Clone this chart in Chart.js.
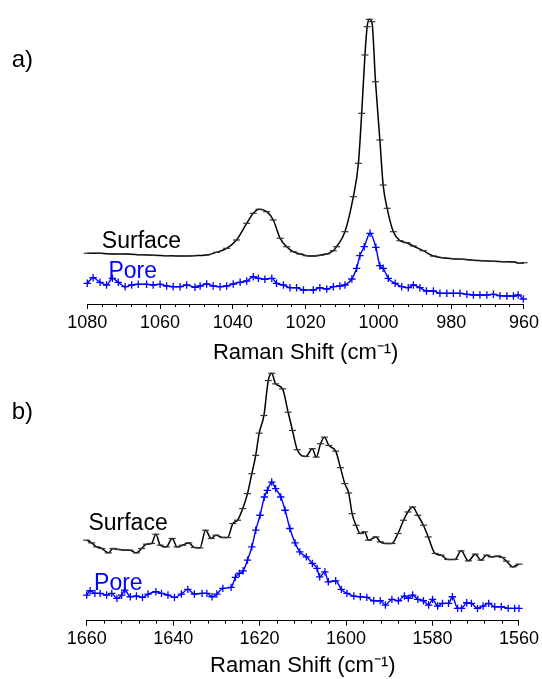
<!DOCTYPE html>
<html><head><meta charset="utf-8">
<script src="https://cdn.jsdelivr.net/npm/chart.js@4.4.1/dist/chart.umd.min.js"></script>
<style>
html,body{margin:0;padding:0;background:#fff;width:542px;height:679px;overflow:hidden;position:relative;}
canvas{position:absolute;left:0;}
#ca{top:0}
#cb{top:366px}
</style></head><body>
<canvas id="ca" width="542" height="366"></canvas>
<canvas id="cb" width="542" height="313"></canvas>
<script>
const FONT = '"Liberation Sans", Arial, Helvetica, sans-serif';

const seriesNames = ['Surface', 'Pore'];
const panelNames = ['a)', 'b)'];
const axisTitle = 'Raman Shift (cm\u207B\u00B9)';

// ---- Panel a (960-1080 cm-1) ----
const ticksA = [1080, 1060, 1040, 1020, 1000, 980, 960];
const shiftA_surface = [1080, 1076.5, 1072.9, 1069.2, 1065.5, 1061.9, 1058.2, 1054.5, 1050.9, 1047.2,
  1044.5, 1041.7, 1039.0, 1036.2, 1034.4, 1032.8, 1030.7, 1028.9, 1027.0, 1025.2,
  1023.4, 1021.6, 1019.7, 1017.9, 1016.1, 1014.2, 1012.4, 1011.5, 1009.2, 1006.9,
  1005.5, 1004.6, 1003.7, 1003.1, 1002.5, 1001.8, 1000.8, 999.6, 998.7, 997.6,
  995.9, 994.1, 992.2, 990.4, 987.7, 984.9, 982.2, 979.4, 976.7, 974.0,
  971.2, 968.4, 965.7, 962.9, 961.1, 960];
const intensityA_surface = [50.7, 50.7, 50, 50, 49.3, 48.7, 48.3, 48, 48.3, 49,
  51.7, 55.7, 64, 80.7, 90.7, 94.7, 92.3, 84, 65.7, 57.3,
  52.3, 50, 48.3, 48, 48.7, 50, 53.3, 57.3, 72.3, 107.3,
  140.7, 190.7, 249, 277.3, 284.7, 282.3, 222.3, 164, 119, 95.7,
  72.3, 63.3, 61.3, 58, 53.3, 48, 46.3, 45.3, 44.7, 43.7,
  43.3, 42.7, 42.3, 42, 40.7, 41.3];
const shiftA_pore = [1080.0, 1078.4, 1076.5, 1074.7, 1073.1, 1071.5, 1069.6, 1067.8, 1066.0, 1063.7,
  1061.9, 1060.0, 1058.2, 1056.4, 1054.5, 1052.7, 1050.4, 1049.0, 1047.2, 1045.4,
  1043.5, 1041.7, 1039.9, 1038.0, 1036.2, 1034.4, 1033.0, 1031.2, 1029.3, 1028.0,
  1026.1, 1024.3, 1022.5, 1020.6, 1017.9, 1016.1, 1014.2, 1012.4, 1010.6, 1009.2,
  1007.3, 1006.0, 1005.1, 1003.9, 1002.3, 1000.7, 999.6, 998.7, 997.3, 995.4,
  993.6, 991.8, 990.4, 988.6, 986.8, 984.9, 983.1, 981.2, 979.4, 977.6,
  975.7, 973.9, 972.1, 970.2, 968.4, 966.6, 964.7, 962.9, 961.6, 960.2];
const intensityA_pore = [20.7, 26.3, 21.7, 19, 25.7, 21.7, 17.3, 19, 19.7, 19.7,
  19, 19.7, 18, 17.3, 17.3, 19, 16.7, 18, 20, 18,
  17.3, 18, 20, 21.7, 23, 27.3, 25.7, 24.7, 25.7, 20.7,
  19, 16.3, 16.3, 14, 14, 16.3, 15, 17.3, 18, 19,
  25, 35.7, 48.3, 57.3, 70.7, 56.7, 38.3, 35.7, 25.7, 20.7,
  17.3, 16.3, 19, 16.3, 13, 13, 10.7, 10.7, 10.7, 10.7,
  9.7, 9, 9, 9, 9.7, 8.3, 8, 8, 9, 5];

// ---- Panel b (1560-1660 cm-1) ----
const ticksB = [1660, 1640, 1620, 1600, 1580, 1560];
const shiftB_surface = [1660, 1658.85, 1657.7, 1656.5, 1655.0, 1653.9, 1652.7, 1651.2, 1650.0, 1648.5,
  1647.3, 1646.2, 1645.0, 1644.0, 1643.0, 1641.6, 1640.2, 1639.1, 1637.8, 1636.4,
  1635.1, 1633.8, 1632.5, 1631.2, 1630.1, 1628.5, 1627.4, 1626.2, 1625.1, 1623.9,
  1622.8, 1621.8, 1620.9, 1620.1, 1619.0, 1618.0, 1617.2, 1616.3, 1614.7, 1613.4,
  1612.4, 1611.3, 1609.3, 1607.8, 1606.9, 1605.9, 1605.0, 1604.0, 1602.4, 1601.3,
  1600.3, 1599.4, 1598.6, 1597.7, 1596.7, 1595.7, 1594.8, 1593.1, 1592.1, 1590.9,
  1589.4, 1588.0, 1586.7, 1585.7, 1584.6, 1583.4, 1582.1, 1581.0, 1579.4, 1578.0,
  1576.5, 1574.8, 1573.4, 1571.7, 1570.1, 1568.8, 1567.5, 1566.4, 1564.8, 1563.9,
  1562.9, 1561.4, 1560];
const intensityB_surface = [80.7, 78, 74, 72.4, 68, 72.4, 71.4, 70.7, 70.7, 68,
  72.4, 76.7, 77.4, 86.7, 75.7, 74, 82.4, 74, 75.7, 78,
  73.4, 73, 90.7, 82.4, 85.7, 83.4, 83.4, 97.4, 100.7, 112.4,
  127.4, 147.4, 165.7, 188, 205.7, 240.7, 248, 237.4, 232.4, 209,
  190.7, 171.4, 164.7, 172.4, 164, 177.4, 184, 175.7, 170, 153.4,
  137.4, 128, 107.4, 95.7, 87.4, 89, 80.7, 84, 79, 77.4,
  77.4, 87.4, 100.7, 109, 114, 105.7, 95.7, 84, 67.4, 65.7,
  61.4, 61.4, 70, 60, 66.7, 60.7, 65.7, 64, 64.7, 63.4,
  59.7, 54, 56.7];
const shiftB_pore = [1660, 1659.2, 1658.1, 1656.9, 1655.4, 1654.2, 1653.0, 1651.9, 1651.2, 1649.9,
  1648.5, 1647.1, 1645.8, 1644.0, 1642.7, 1641.2, 1639.7, 1638.1, 1636.6, 1635.1,
  1633.3, 1632.2, 1631.0, 1629.9, 1628.5, 1626.6, 1625.6, 1624.7, 1623.8, 1622.8,
  1621.8, 1620.9, 1619.9, 1618.9, 1618.2, 1617.2, 1616.3, 1615.1, 1614.1, 1613.0,
  1611.8, 1610.7, 1609.2, 1607.8, 1606.7, 1606.1, 1604.9, 1604.1, 1602.4, 1601.1,
  1599.8, 1598.2, 1596.7, 1595.2, 1593.6, 1592.1, 1590.9, 1589.4, 1587.9, 1586.5,
  1585.6, 1584.6, 1583.4, 1582.1, 1580.9, 1580.0, 1578.8, 1577.7, 1576.3, 1575.4,
  1574.2, 1573.3, 1572.1, 1571.0, 1569.6, 1568.3, 1567.0, 1565.6, 1564.1, 1562.5,
  1561.0, 1560];
const intensityB_pore = [25.7, 30, 27.4, 27.4, 25.7, 27.4, 22.4, 25.7, 30.7, 24,
  24.7, 23.4, 26.7, 29, 27.4, 25.7, 23.4, 26.7, 31.4, 26.7,
  27.4, 27.4, 24, 26.7, 32.4, 33.4, 43.4, 47.4, 50, 60.7,
  74, 90.7, 105.7, 124, 130.7, 139, 132.4, 124, 110.7, 92.4,
  78, 69, 64, 57.4, 52.4, 44, 49, 39, 40, 31.4,
  27.4, 24.7, 24, 23.4, 20, 20, 15.7, 21.4, 20, 24.7,
  22.4, 25.7, 21.4, 20, 15.7, 21.4, 14.7, 17.4, 17.4, 24,
  12.4, 12.4, 18, 17.4, 12.4, 14.7, 17.4, 14, 14, 12.4,
  12.4, 12.4];

function pts(xs, ys) { return xs.map((x, i) => ({ x: x, y: ys[i] })); }

const textLabels = {
  id: 'textLabels',
  afterDatasetsDraw(chart, args, opts) {
    const ctx = chart.ctx;
    ctx.save();
    (opts.items || []).forEach(it => {
      ctx.font = it.size + 'px ' + FONT;
      ctx.fillStyle = it.color;
      ctx.textAlign = 'left';
      ctx.textBaseline = 'alphabetic';
      let x, y;
      if (it.px !== undefined) { x = it.px; y = it.py; }
      else { x = chart.scales.x.getPixelForValue(it.x); y = chart.scales.y.getPixelForValue(it.y); }
      ctx.fillText(it.text, x, y);
    });
    ctx.restore();
  }
};

const minorTicks = {
  id: 'minorTicks',
  afterDraw(chart, args, opts) {
    const s = chart.scales.x, ctx = chart.ctx, b = chart.chartArea.bottom;
    ctx.save();
    ctx.strokeStyle = '#000';
    ctx.lineWidth = 1;
    for (let v = s.min; v <= s.max + 1e-6; v += opts.step) {
      if (Math.abs(v % opts.major) < 1e-6) continue;
      const x = Math.round(s.getPixelForValue(v)) + 0.5;
      ctx.beginPath(); ctx.moveTo(x, b); ctx.lineTo(x, b + opts.len); ctx.stroke();
    }
    ctx.restore();
  }
};

function makeChart(id, cfg) {
  return new Chart(document.getElementById(id), {
    type: 'line',
    data: {
      datasets: [
        { label: seriesNames[0], data: pts(cfg.sx, cfg.sy), borderColor: '#000', borderWidth: 1.5,
          pointStyle: 'line', pointRadius: 3.5, pointBorderColor: '#333', pointBorderWidth: 1.2,
          pointBackgroundColor: '#000', cubicInterpolationMode: 'monotone', fill: false, clip: false },
        { label: seriesNames[1], data: pts(cfg.px, cfg.py), borderColor: '#0000ff', borderWidth: 1.4,
          pointStyle: 'cross', pointRadius: 3.7, pointBorderColor: '#0000ff', pointBorderWidth: 1.3,
          pointBackgroundColor: '#0000ff', cubicInterpolationMode: 'monotone', fill: false, clip: false }
      ]
    },
    options: {
      responsive: false, animation: false, devicePixelRatio: 1,
      layout: { padding: { left: cfg.padL, right: cfg.padR, top: cfg.padT, bottom: 0 } },
      plugins: {
        legend: { display: false }, tooltip: { enabled: false },
        textLabels: { items: cfg.labels },
        minorTicks: { step: 4, major: 20, len: 3 }
      },
      scales: {
        x: {
          type: 'linear', reverse: true, min: cfg.min, max: cfg.max,
          afterBuildTicks: s => { s.ticks = cfg.ticks.map(v => ({ value: v })); },
          afterFit: s => { s.height = cfg.axisH; },
          border: { display: true, color: '#000', width: 1 },
          grid: { display: true, drawOnChartArea: false, drawTicks: true, tickLength: 5, color: '#000', tickColor: '#000' },
          ticks: { color: '#000', font: { family: FONT, size: 18 }, padding: 3, maxRotation: 0, autoSkip: false,
                   callback: v => String(v) },
          title: { display: true, text: axisTitle, color: '#000', font: { family: FONT, size: 22 }, padding: { top: 0, bottom: 0 } }
        },
        y: { display: false, min: 0, max: cfg.ymax }
      }
    },
    plugins: [textLabels, minorTicks]
  });
}

makeChart('ca', {
  sx: shiftA_surface, sy: intensityA_surface, px: shiftA_pore, py: intensityA_pore,
  min: 960, max: 1080, ticks: ticksA, ymax: 294, padL: 87.3, padR: 18, padT: 10, axisH: 62,
  labels: [
    { text: panelNames[0], px: 11.7, py: 66.7, size: 24, color: '#000' },
    { text: seriesNames[0], x: 1076.0, y: 56.3, size: 23, color: '#000' },
    { text: seriesNames[1], x: 1074.2, y: 25.7, size: 23, color: '#0000ff' }
  ]
});
makeChart('cb', {
  sx: shiftB_surface, sy: intensityB_surface, px: shiftB_pore, py: intensityB_pore,
  min: 1560, max: 1660, ticks: ticksB, ymax: 250, padL: 86.7, padR: 21, padT: 4.7, axisH: 58.3,
  labels: [
    { text: panelNames[1], px: 11.7, py: 53, size: 24, color: '#000' },
    { text: seriesNames[0], x: 1659.6, y: 90.7, size: 23, color: '#000' },
    { text: seriesNames[1], x: 1658.3, y: 30.7, size: 23, color: '#0000ff' }
  ]
});
</script>
</body></html>
